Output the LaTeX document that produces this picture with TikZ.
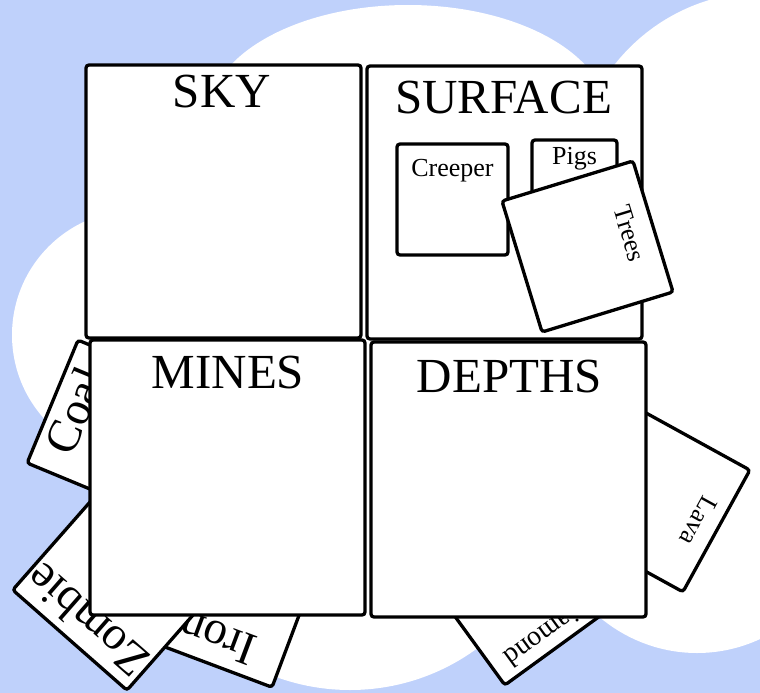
\documentclass[tikz,border=0pt]{standalone}
\usepackage{fontspec}
\setmainfont{Liberation Serif}
\definecolor{skyblue}{HTML}{BFD1FB}
\begin{document}
\begin{tikzpicture}[x=1pt,y=-1pt,
  box/.style={draw=black, line width=3.3pt, rounded corners=3pt, fill=white, inner sep=0pt, outer sep=0pt},
  titletext/.style={font=\fontsize{49}{49}\selectfont, inner sep=0pt, anchor=base},
  bigtext/.style={font=\fontsize{47}{47}\selectfont, inner sep=0pt, anchor=base, transform shape},
  smalltext/.style={font=\fontsize{26}{26}\selectfont, inner sep=0pt, anchor=base},
  cloud/.style={fill=white}]
\useasboundingbox (0,0) rectangle (760,693);
\fill[skyblue] (0,0) rectangle (760,693);
% cloud
\fill[cloud] (408,117) ellipse [x radius=200pt, y radius=112pt];
\fill[cloud] (764,182) circle [radius=190pt];
\fill[cloud] (697,480) ellipse [x radius=160pt, y radius=173pt];
\fill[cloud] (350,475) circle [radius=215pt];
\fill[cloud] (137,335) circle [radius=125pt];
\fill[cloud] (380,350) circle [radius=250pt];
% cards behind
\begin{scope}[shift={(114,427)}, rotate=67.5]
  \node[box, minimum size=133pt, transform shape] (coal) at (0,0) {};
  \node[bigtext] (coallabel) at (0,-26.5) {Coal};
\end{scope}
\begin{scope}[shift={(232,599)}, rotate=159.4]
  \node[box, minimum size=137pt, transform shape] (iron) at (0,0) {};
  \node[bigtext] (ironlabel) at (0,-26.5) {Iron};
\end{scope}
\begin{scope}[shift={(120,583)}, rotate=138.7]
  \node[box, minimum size=152pt, transform shape] (zombie) at (0,0) {};
  \node[bigtext] (zombielabel) at (0,-34) {Zombie};
\end{scope}
\begin{scope}[shift={(520,589.4)}, rotate=-144]
  \node[box, minimum size=137pt, transform shape] (diamond) at (0,0) {};
  \node[smalltext, font=\fontsize{28}{28}\selectfont, transform shape] (diamondlabel) at (0,-42) {Diamond};
\end{scope}
\begin{scope}[shift={(655.5,497.5)}, rotate=-118.8]
  \node[box, minimum size=139pt, transform shape] (lava) at (0,0) {};
  \node[smalltext, transform shape] (lavalabel) at (0,-40.5) {Lava};
\end{scope}
% main squares
\node[box, minimum width=275pt, minimum height=273pt] (sky) at (223.5,201.5) {};
\node[box, minimum width=275pt, minimum height=273pt] (surface) at (504.5,202.5) {};
\node[box, minimum width=275pt, minimum height=275pt] (mines) at (227.5,477.5) {};
\node[box, minimum width=275pt, minimum height=275pt] (depths) at (508.5,479.5) {};
\node[titletext] (skyt) at (222,107) {SKY};
\node[titletext] (surfacet) at (503.5,113) {SURFACE};
\node[titletext] (minest) at (228,388) {MINES};
\node[titletext] (depthst) at (509.5,392) {DEPTHS};
% surface cards
\node[box, minimum width=111pt, minimum height=111pt] (creeper) at (452.5,199.5) {};
\node[smalltext] (creeperlabel) at (452.5,176) {Creeper};
\node[box, minimum width=85pt, minimum height=85pt] (pigs) at (574.5,182.5) {};
\node[smalltext] (pigslabel) at (574.5,164) {Pigs};
\begin{scope}[shift={(587.5,246.5)}, rotate=-73]
  \node[box, minimum size=137pt, transform shape] (trees) at (0,0) {};
  \node[smalltext, transform shape] (treeslabel) at (0,-35.5) {Trees};
\end{scope}
\end{tikzpicture}
\end{document}
